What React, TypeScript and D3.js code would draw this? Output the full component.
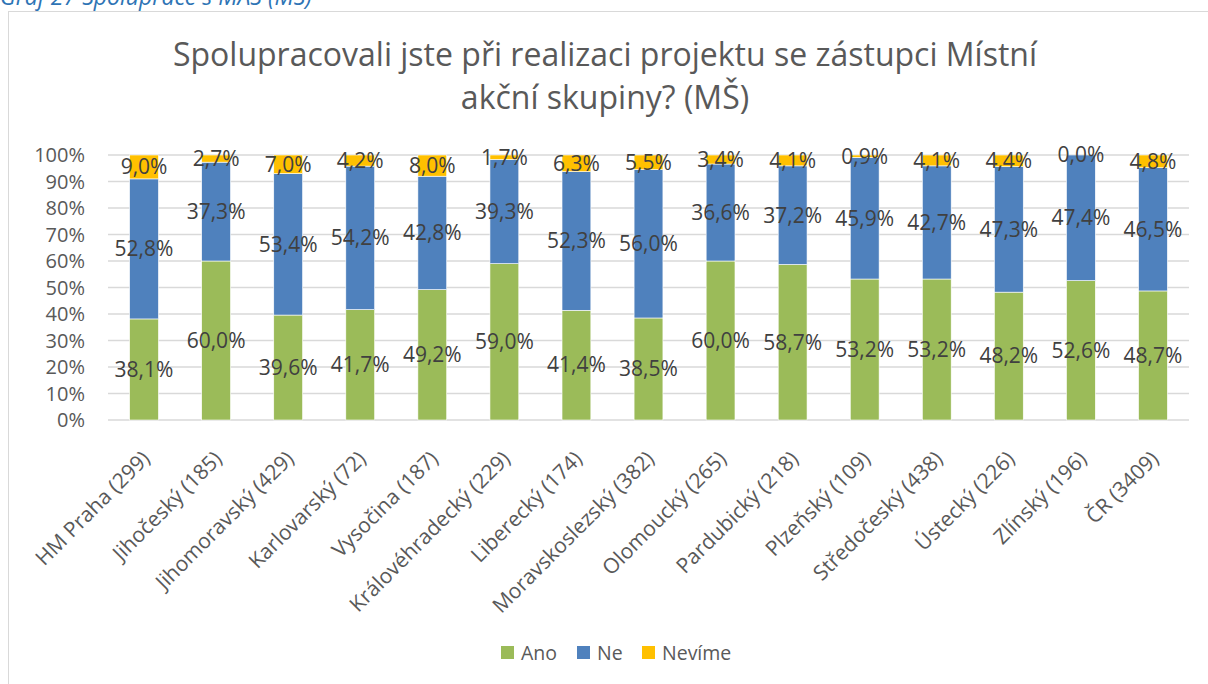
import React from "react";
import * as d3 from "d3";

const categories = [
  "HM Praha (299)",
  "Jihočeský (185)",
  "Jihomoravský (429)",
  "Karlovarský (72)",
  "Vysočina (187)",
  "Královéhradecký (229)",
  "Liberecký (174)",
  "Moravskoslezský (382)",
  "Olomoucký (265)",
  "Pardubický (218)",
  "Plzeňský (109)",
  "Středočeský (438)",
  "Ústecký (226)",
  "Zlínský (196)",
  "ČR (3409)",
];
const ano = [38.1, 60.0, 39.6, 41.7, 49.2, 59.0, 41.4, 38.5, 60.0, 58.7, 53.2, 53.2, 48.2, 52.6, 48.7];
const ne = [52.8, 37.3, 53.4, 54.2, 42.8, 39.3, 52.3, 56.0, 36.6, 37.2, 45.9, 42.7, 47.3, 47.4, 46.5];
const nevime = [9.0, 2.7, 7.0, 4.2, 8.0, 1.7, 6.3, 5.5, 3.4, 4.1, 0.9, 4.1, 4.4, 0.0, 4.8];
const seriesNames = ["Ano", "Ne", "Nevíme"];
const seriesColors = ["#9BBB59", "#4F81BD", "#FFC000"];
const yTicks = [0, 0.1, 0.2, 0.3, 0.4, 0.5, 0.6, 0.7, 0.8, 0.9, 1.0];
const titleLines = ["Spolupracovali jste při realizaci projektu se zástupci Místní", "akční skupiny? (MŠ)"];
const caption = "Graf 27 Spolupráce s MAS (MŠ)";

const FONT = "'Open Sans', sans-serif";

export default function App() {
  const W = 1208, H = 684;
  const plot = { left: 108, right: 1189, top: 155, bottom: 420 };
  const x = d3.scaleBand<string>().domain(categories).range([plot.left, plot.right]).paddingInner(0.6).paddingOuter(0.3);
  const y = d3.scaleLinear().domain([0, 1]).range([plot.bottom, plot.top]);

  const rows = categories.map((c, i) => ({ cat: c, Ano: ano[i], Ne: ne[i], "Nevíme": nevime[i] }));
  const normRows = rows.map((r) => {
    const s = r.Ano + r.Ne + r["Nevíme"];
    return { cat: r.cat, Ano: r.Ano / s, Ne: r.Ne / s, "Nevíme": r["Nevíme"] / s };
  });
  const stack = d3.stack<any>().keys(seriesNames);
  const stacked = stack(normRows);
  const fmt = (v: number) => v.toFixed(1).replace(".", ",") + "%";
  const pct = d3.format(".0%");

  const legendItems = [
    { name: "Ano", x: 501 },
    { name: "Ne", x: 577 },
    { name: "Nevíme", x: 642 },
  ];

  return (
    <svg width={W} height={H} style={{ position: "absolute", left: 0, top: 0, background: "#fff" }} fontFamily={FONT}>
      <rect x={0} y={0} width={W} height={H} fill="#fff" />
      <text x={0} y={4.5} fontSize={23} fontStyle="italic" fill="#2E74B5">{caption}</text>
      <rect x={8.5} y={11.5} width={W + 10} height={H + 10} fill="#fff" stroke="#d9d9d9" strokeWidth={1} />
      {titleLines.map((t, i) => (
        <text key={i} x={605} y={66 + i * 43} textAnchor="middle" fontSize={32} fill="#595959">{t}</text>
      ))}
      {yTicks.map((t) => (
        <g key={t}>
          <line x1={plot.left} x2={plot.right} y1={y(t)} y2={y(t)} stroke="#d9d9d9" strokeWidth={1.3} />
          <text x={85} y={y(t)} dy="0.35em" textAnchor="end" fontSize={20} fill="#595959">{pct(t)}</text>
        </g>
      ))}
      {stacked.map((layer, si) => (
        <g key={layer.key}>
          {layer.map((d, i) => (
            <rect key={i} x={x(categories[i])} width={x.bandwidth()} y={y(d[1])} height={Math.max(0, y(d[0]) - y(d[1]))}
              fill={seriesColors[si]} stroke="#fff" strokeWidth={0.6} />
          ))}
        </g>
      ))}
      {stacked.map((layer, si) => (
        <g key={"l" + layer.key}>
          {layer.map((d, i) => (
            <text key={i} x={(x(categories[i]) as number) + x.bandwidth() / 2} y={y((d[0] + d[1]) / 2)} dy="0.35em"
              textAnchor="middle" fontSize={21} fill="#404040">
              {fmt([ano, ne, nevime][si][i])}
            </text>
          ))}
        </g>
      ))}
      {categories.map((c) => {
        const cx = (x(c) as number) + x.bandwidth() / 2 + 7;
        const cy = plot.bottom + 40;
        return (
          <text key={c} x={cx} y={cy} transform={`rotate(-45 ${cx} ${cy})`} textAnchor="end" fontSize={21} fill="#595959">{c}</text>
        );
      })}
      {legendItems.map((l, i) => (
        <g key={l.name}>
          <rect x={l.x} y={646} width={13} height={13} fill={seriesColors[i]} />
          <text x={l.x + 20} y={659.5} fontSize={19.5} fill="#595959">{l.name}</text>
        </g>
      ))}
    </svg>
  );
}
